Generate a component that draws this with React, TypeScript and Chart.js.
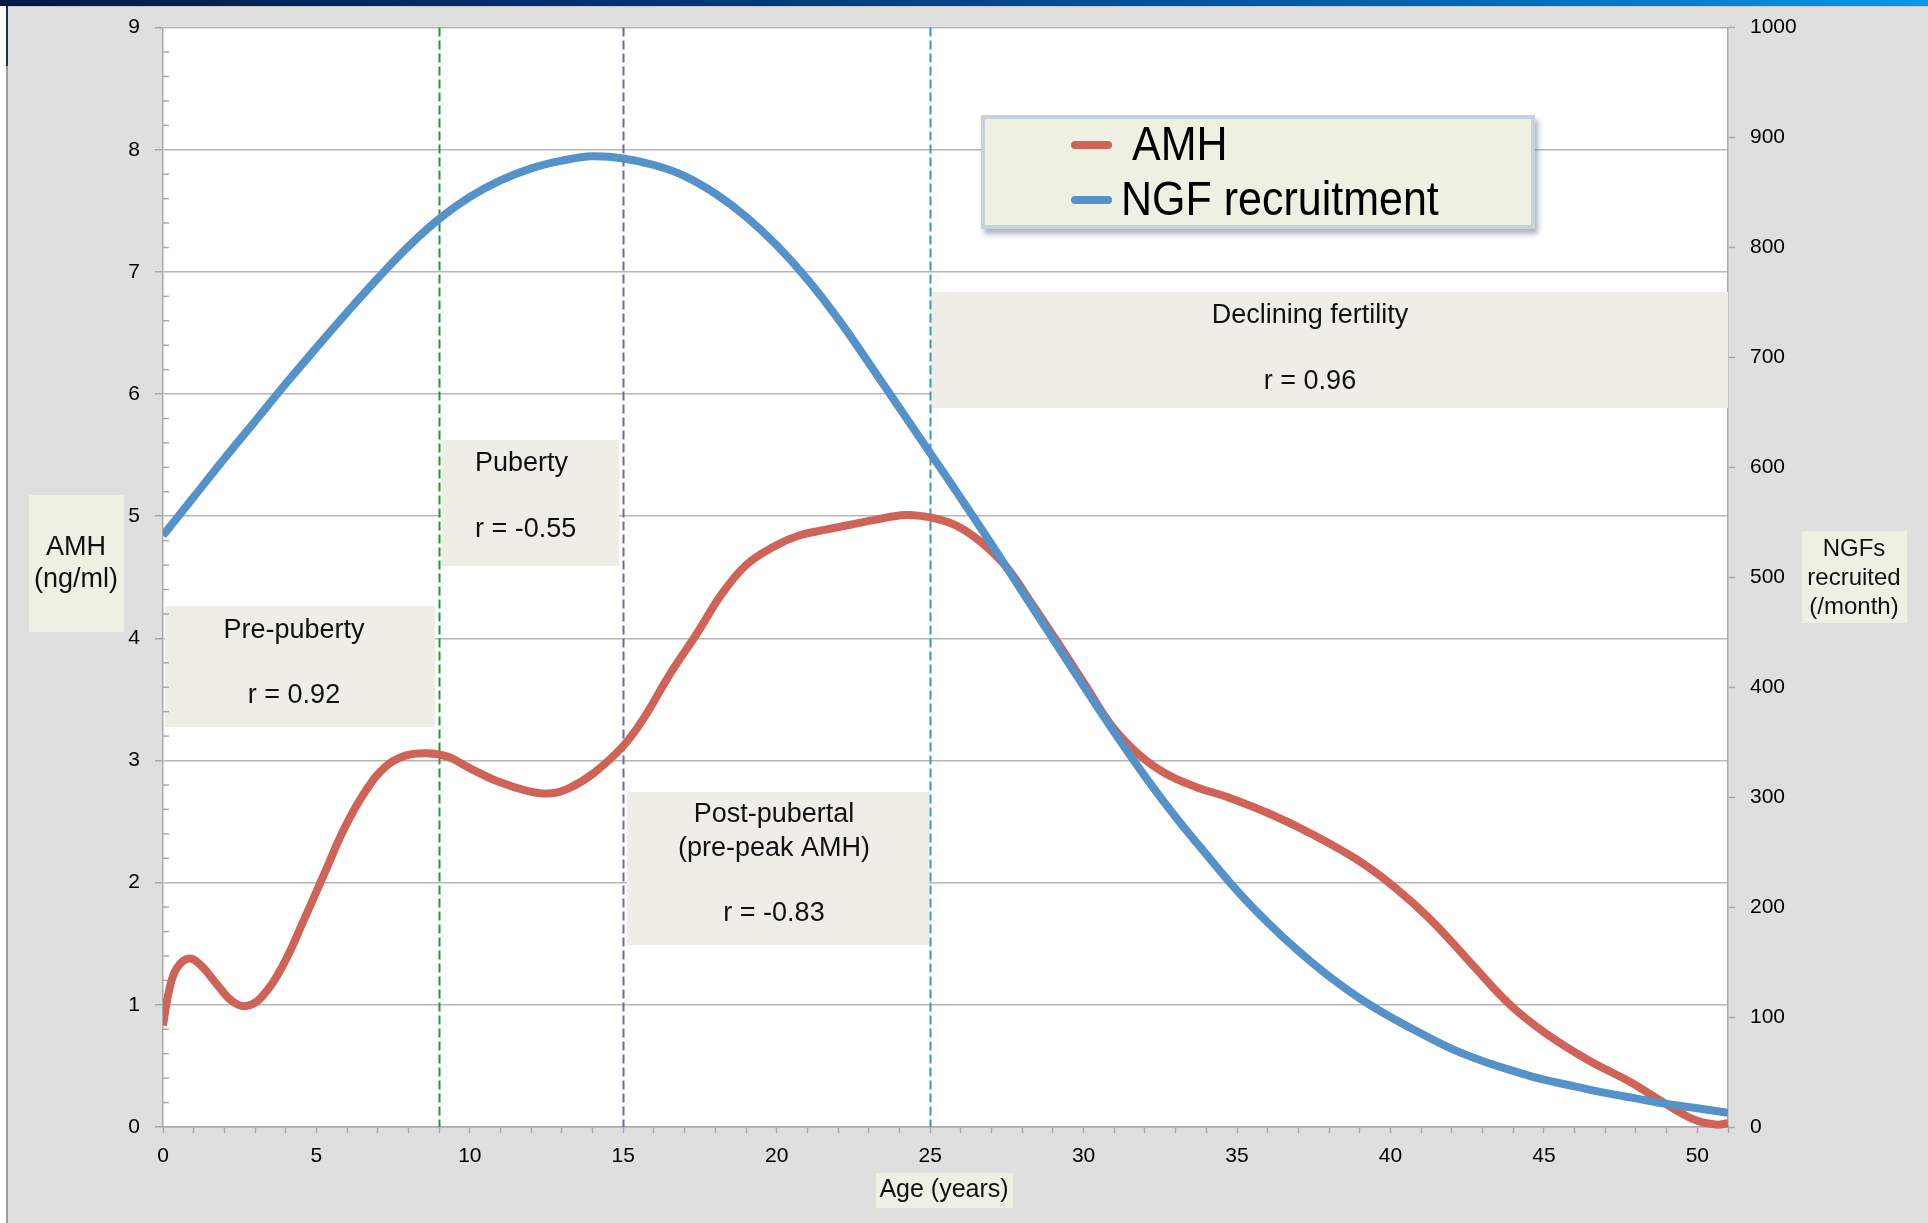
import React, { useEffect, useRef } from 'react';
import { Chart, registerables } from 'chart.js';

Chart.register(...registerables);

// ---------------- DATA ----------------
const amhAges = [0, 0.2, 0.45, 0.85, 1.25, 1.75, 2.25, 2.7, 3.2, 3.9, 4.6, 5.25, 5.9, 6.6, 7.25, 7.9, 8.6, 9.3, 9.9, 10.9, 11.9, 12.6, 13.2, 14.0, 15.0, 15.7, 16.5, 17.4, 18.2, 19.0, 19.9, 20.7, 21.6, 22.4, 23.2, 24.2, 25.0, 25.8, 26.6, 27.5, 28.3, 29.2, 30.1, 30.9, 31.8, 32.7, 33.7, 34.7, 36.1, 37.5, 38.9, 40.1, 41.3, 42.7, 43.9, 45.1, 46.5, 47.8, 48.9, 49.9, 50.6, 51];
const amhValues = [0.83, 1.12, 1.3, 1.38, 1.32, 1.17, 1.03, 0.99, 1.06, 1.32, 1.7, 2.07, 2.44, 2.75, 2.95, 3.04, 3.06, 3.03, 2.95, 2.83, 2.75, 2.73, 2.77, 2.89, 3.12, 3.36, 3.7, 4.04, 4.36, 4.6, 4.75, 4.84, 4.89, 4.93, 4.97, 5.01, 4.99, 4.93, 4.8, 4.58, 4.29, 3.95, 3.6, 3.29, 3.05, 2.89, 2.78, 2.7, 2.56, 2.39, 2.19, 1.97, 1.7, 1.32, 1.0, 0.76, 0.54, 0.37, 0.2, 0.06, 0.02, 0.03];

const ngfAges = [0, 1, 2, 3, 4, 5, 6, 7, 8, 9, 10, 11, 12, 13, 14, 15, 16, 17, 18, 19, 20, 21, 22, 23, 24, 25, 26, 27, 28, 29, 30, 31, 32, 33, 34, 35, 36, 37, 38, 39, 40, 41, 42, 43, 44, 45, 46, 47, 48, 49, 50, 51];
const ngfValues = [538, 573, 608, 642, 676, 709, 741, 772, 801, 826, 846, 861, 872, 879, 883, 881, 875, 865, 849, 828, 802, 771, 735, 695, 654, 613, 572, 530, 487, 444, 401, 359, 319, 282, 248, 215, 186, 160, 137, 117, 100, 85, 71, 60, 51, 43, 37, 31, 26, 21, 17, 13];

const seriesLabels = ['AMH', 'NGF recruitment'];
const phaseBoundaries = [9, 15, 25];
const phaseTitles = [['Pre-puberty'], ['Puberty'], ['Post-pubertal', '(pre-peak AMH)'], ['Declining fertility']];
const phaseCorrelations = ['r = 0.92', 'r = -0.55', 'r = -0.83', 'r = 0.96'];
const leftAxisTitle = ['AMH', '(ng/ml)'];
const rightAxisTitle = ['NGFs', 'recruited', '(/month)'];
const xAxisTitle = 'Age (years)';
const xRange = [0, 51];
const amhRange = [0, 9];
const ngfRange = [0, 1000];

// ---------------- STYLE / LAYOUT ----------------
const W = 1928;
const H = 1223;
const FONT = '"Liberation Sans", Arial, Helvetica, sans-serif';
const RED = '#cf6357';
const BLUE = '#5592c9';
const AXIS_GRAY = '#a9a9a9';
const GRID_GRAY = '#b6b6b6';
const BOX_FILL = '#eeeee7';
const TITLE_FILL = '#eff0e4';
const PHASE_COLORS = ['#22992e', '#7b62a3', '#3a9ab9'];

// phase annotation boxes: [x, y, w, h], text anchor x, align, line centre ys
const phaseBoxes = [
  { box: [165, 606, 270, 121], tx: 294, align: 'center', ys: [631, 696] },
  { box: [441, 440, 178, 126], tx: 475, align: 'left', ys: [464, 530] },
  { box: [627, 792, 302, 153], tx: 774, align: 'center', ys: [815, 848.5, 914] },
  { box: [931, 292, 797, 116], tx: 1310, align: 'center', ys: [316, 382] },
];

const pts = (xs: number[], ys: number[]) => xs.map((x, i) => ({ x, y: ys[i] }));

const framePlugin = {
  id: 'frame',
  beforeDraw(chart: any) {
    const ctx = chart.ctx;
    const ca = chart.chartArea;
    ctx.save();
    ctx.fillStyle = '#ffffff';
    ctx.fillRect(0, 0, W, H);
    ctx.fillStyle = '#dfdfdf';
    ctx.fillRect(7, 6, W - 7, H - 6);
    const g = ctx.createLinearGradient(0, 0, W, 0);
    g.addColorStop(0, '#001848');
    g.addColorStop(0.4, '#003a7c');
    g.addColorStop(0.75, '#0066b6');
    g.addColorStop(1, '#0a98e8');
    ctx.fillStyle = g;
    ctx.fillRect(0, 0, W, 6);
    ctx.fillStyle = '#c9c9c9';
    ctx.fillRect(7, 6, W - 7, 1);
    ctx.fillStyle = '#1c2f5c';
    ctx.fillRect(6, 6, 2, 60);
    ctx.fillStyle = '#9c9c9c';
    ctx.fillRect(6, 66, 2, H - 66);
    ctx.fillStyle = '#ffffff';
    ctx.fillRect(ca.left, ca.top, ca.right - ca.left, ca.bottom - ca.top);
    ctx.restore();
  },
};

function drawLines(ctx: any, lines: string[], x: number, ys: number[], align: string, size: number) {
  ctx.font = `${size}px ${FONT}`;
  ctx.fillStyle = '#111111';
  ctx.textAlign = align;
  ctx.textBaseline = 'middle';
  lines.forEach((t, i) => ctx.fillText(t, x, ys[i]));
}

const annotationPlugin = {
  id: 'phases',
  beforeDatasetsDraw(chart: any) {
    const ctx = chart.ctx;
    const ca = chart.chartArea;
    const sx = chart.scales.x;
    ctx.save();
    phaseBoxes.forEach((p, i) => {
      const [bx, by, bw, bh] = p.box;
      ctx.fillStyle = BOX_FILL;
      ctx.fillRect(bx, by, bw, bh);
      const all = [...phaseTitles[i], phaseCorrelations[i]];
      drawLines(ctx, all, p.tx, p.ys, p.align, 27);
    });
    phaseBoundaries.forEach((v, i) => {
      const px = Math.round(sx.getPixelForValue(v)) + 0.5;
      ctx.strokeStyle = PHASE_COLORS[i];
      ctx.lineWidth = 2;
      ctx.setLineDash([9, 4]);
      ctx.beginPath();
      ctx.moveTo(px, ca.top);
      ctx.lineTo(px, ca.bottom);
      ctx.stroke();
    });
    ctx.setLineDash([]);
    const sy = chart.scales.y;
    ctx.strokeStyle = AXIS_GRAY;
    ctx.lineWidth = 1.5;
    for (let k = 1; k < 45; k++) {
      if (k % 5 === 0) continue;
      const yy = sy.getPixelForValue(k * 0.2);
      ctx.beginPath();
      ctx.moveTo(ca.left, yy);
      ctx.lineTo(ca.left + 6, yy);
      ctx.stroke();
    }
    ctx.restore();
  },
  afterDraw(chart: any) {
    const ctx = chart.ctx;
    ctx.save();
    ctx.fillStyle = TITLE_FILL;
    ctx.fillRect(29, 495, 95, 137);
    drawLines(ctx, leftAxisTitle, 76, [548, 580], 'center', 27);
    ctx.fillStyle = TITLE_FILL;
    ctx.fillRect(1802, 531, 105, 92);
    drawLines(ctx, rightAxisTitle, 1854, [549, 578, 607], 'center', 24);
    ctx.fillStyle = TITLE_FILL;
    ctx.fillRect(876, 1173, 137, 35);
    drawLines(ctx, [xAxisTitle], 944, [1190], 'center', 25);

    const lx = 981, ly = 115, lw = 554, lh = 114;
    ctx.save();
    ctx.shadowColor = 'rgba(110,120,140,0.55)';
    ctx.shadowBlur = 5;
    ctx.shadowOffsetX = 3;
    ctx.shadowOffsetY = 5;
    ctx.fillStyle = '#c9d1dd';
    ctx.fillRect(lx, ly, lw, lh);
    ctx.restore();
    ctx.fillStyle = '#eef0e2';
    ctx.fillRect(lx + 4, ly + 4, lw - 8, lh - 8);
    const items = [
      { ds: 0, y: 145, tx: 1132 },
      { ds: 1, y: 200, tx: 1121 },
    ];
    items.forEach((it) => {
      const ds = chart.data.datasets[it.ds];
      ctx.strokeStyle = ds.borderColor;
      ctx.lineWidth = 8;
      ctx.lineCap = 'round';
      ctx.beginPath();
      ctx.moveTo(1075, it.y);
      ctx.lineTo(1108, it.y);
      ctx.stroke();
      ctx.save();
      ctx.translate(it.tx, it.y + 1);
      ctx.scale(1, 1.14);
      ctx.font = `43px ${FONT}`;
      ctx.fillStyle = '#000000';
      ctx.textAlign = 'left';
      ctx.textBaseline = 'middle';
      ctx.fillText(ds.label, 0, 0);
      ctx.restore();
    });
    ctx.restore();
  },
};

export default function App() {
  const ref = useRef<HTMLCanvasElement>(null);
  useEffect(() => {
    const canvas = ref.current;
    if (!canvas) return;
    const tickFont = { family: FONT, size: 21 };
    const plain = (v: any) => String(v);
    const chart = new Chart(canvas, {
      type: 'line',
      data: {
        datasets: [
          {
            label: seriesLabels[0],
            data: pts(amhAges, amhValues),
            yAxisID: 'y',
            borderColor: RED,
            backgroundColor: RED,
            borderWidth: 8,
            pointRadius: 0,
            tension: 0.4,
            fill: false,
            order: 1,
            clip: { left: 0, right: 0, top: 5, bottom: 5 },
          },
          {
            label: seriesLabels[1],
            data: pts(ngfAges, ngfValues),
            yAxisID: 'y2',
            borderColor: BLUE,
            backgroundColor: BLUE,
            borderWidth: 8,
            pointRadius: 0,
            tension: 0.4,
            fill: false,
            order: 0,
            clip: { left: 0, right: 0, top: 5, bottom: 5 },
          },
        ],
      },
      options: {
        responsive: false,
        animation: false,
        devicePixelRatio: 1,
        layout: { padding: { top: 27, left: 0, right: 0, bottom: 0 } },
        plugins: { legend: { display: false }, tooltip: { enabled: false } },
        events: [],
        scales: {
          x: {
            type: 'linear',
            min: xRange[0],
            max: xRange[1],
            afterFit: (s: any) => { s.height = 96; },
            ticks: {
              stepSize: 1,
              autoSkip: false,
              maxRotation: 0,
              minRotation: 0,
              padding: 11,
              color: '#000000',
              font: tickFont,
              callback: (v: any) => (Number(v) % 5 === 0 ? String(v) : ''),
            },
            grid: { drawOnChartArea: false, drawTicks: true, tickLength: 6, tickColor: AXIS_GRAY, tickWidth: 1.5 },
            border: { color: AXIS_GRAY, width: 1.5 },
          },
          y: {
            type: 'linear',
            position: 'left',
            min: amhRange[0],
            max: amhRange[1],
            afterFit: (s: any) => { s.width = 163; },
            ticks: { stepSize: 1, padding: 15, color: '#000000', font: tickFont, callback: plain },
            grid: { color: GRID_GRAY, lineWidth: 1.5, drawTicks: true, tickLength: 8, tickColor: AXIS_GRAY, tickWidth: 1.5 },
            border: { color: AXIS_GRAY, width: 1.5 },
          },
          y2: {
            type: 'linear',
            position: 'right',
            min: ngfRange[0],
            max: ngfRange[1],
            afterFit: (s: any) => { s.width = 200; },
            ticks: { stepSize: 100, padding: 15, color: '#000000', font: tickFont, callback: plain },
            grid: { drawOnChartArea: false, drawTicks: true, tickLength: 7, tickColor: AXIS_GRAY, tickWidth: 1.5 },
            border: { color: AXIS_GRAY, width: 1.5 },
          },
        },
      } as any,
      plugins: [framePlugin, annotationPlugin],
    } as any);
    return () => chart.destroy();
  }, []);
  return (
    <div style={{ position: 'absolute', left: 0, top: 0, width: W, height: H, overflow: 'hidden' }}>
      <canvas ref={ref} width={W} height={H} style={{ display: 'block', width: W, height: H }} />
    </div>
  );
}
